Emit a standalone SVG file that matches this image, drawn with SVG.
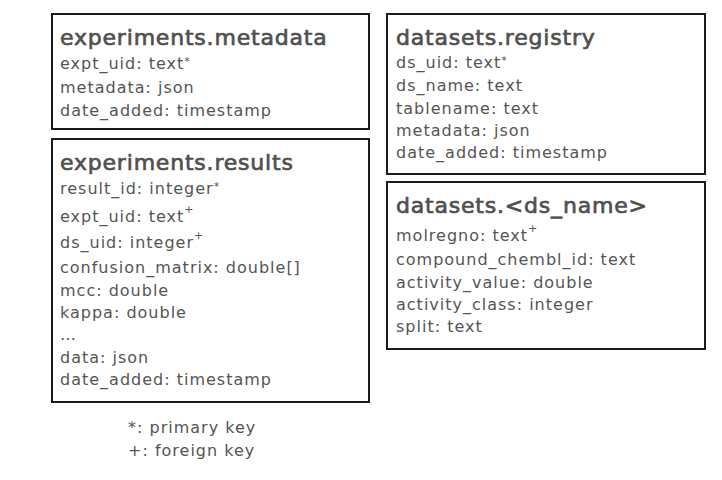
<svg xmlns="http://www.w3.org/2000/svg" width="722" height="480" viewBox="0 0 722 480">
<style>
.box{fill:#fff;stroke:#1a1a1a;stroke-width:2}
text{font-family:"DejaVu Sans","Open Sans",sans-serif;fill:#555}
.t{font-size:22px;letter-spacing:0.8px;fill:#505050;stroke:#505050;stroke-width:0.7px}
.f{font-size:16px;letter-spacing:1px}
.sup{font-size:11px;letter-spacing:0}
</style>
<rect width="722" height="480" fill="#fff"/>
<g id="experiments_metadata">
<rect class="box" x="52" y="14" width="317" height="115"/>
<text class="t" x="60" y="45">experiments.metadata</text>
<text class="f" x="60" y="69">expt_uid: text<tspan class="sup" dy="-4">*</tspan></text>
<text class="f" x="60" y="93">metadata: json</text>
<text class="f" x="60" y="116">date_added: timestamp</text>
</g>
<g id="experiments_results">
<rect class="box" x="52" y="139" width="317" height="263"/>
<text class="t" x="60" y="170">experiments.results</text>
<text class="f" x="60" y="194">result_id: integer<tspan class="sup" dy="-4">*</tspan></text>
<text class="f" x="60" y="222">expt_uid: text<tspan class="sup" dy="-9">+</tspan></text>
<text class="f" x="60" y="248">ds_uid: integer<tspan class="sup" dy="-9">+</tspan></text>
<text class="f" x="60" y="273">confusion_matrix: double[]</text>
<text class="f" x="60" y="296">mcc: double</text>
<text class="f" x="60" y="318">kappa: double</text>
<text class="f" x="60" y="340">…</text>
<text class="f" x="60" y="363">data: json</text>
<text class="f" x="60" y="385">date_added: timestamp</text>
</g>
<g id="datasets_registry">
<rect class="box" x="387" y="14" width="318" height="160"/>
<text class="t" x="396" y="45">datasets.registry</text>
<text class="f" x="396" y="68">ds_uid: text<tspan class="sup" dy="-4">*</tspan></text>
<text class="f" x="396" y="91">ds_name: text</text>
<text class="f" x="396" y="114">tablename: text</text>
<text class="f" x="396" y="136">metadata: json</text>
<text class="f" x="396" y="158">date_added: timestamp</text>
</g>
<g id="datasets_ds_name">
<rect class="box" x="387" y="182" width="318" height="167"/>
<text class="t" x="396" y="213">datasets.&lt;ds_name&gt;</text>
<text class="f" x="396" y="241">molregno: text<tspan class="sup" dy="-9">+</tspan></text>
<text class="f" x="396" y="265">compound_chembl_id: text</text>
<text class="f" x="396" y="288">activity_value: double</text>
<text class="f" x="396" y="310">activity_class: integer</text>
<text class="f" x="396" y="332">split: text</text>
</g>
<g id="connectors"></g>
<g id="legend">
<text class="f" x="128" y="433">*: primary key</text>
<text class="f" x="128" y="456">+: foreign key</text>
</g>
</svg>
